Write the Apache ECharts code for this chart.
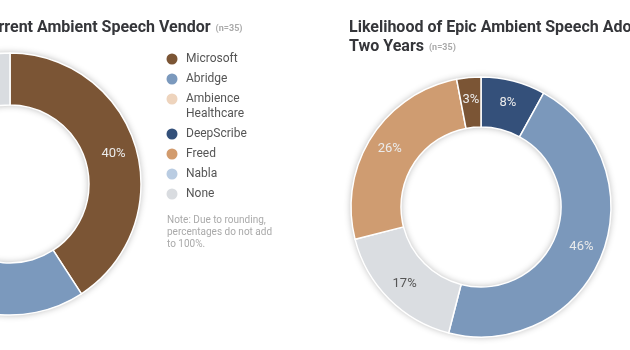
<!DOCTYPE html>
<html>
<head>
    <meta charset="UTF-8">
    <title>Ambient Speech Vendors</title>
    <script src="https://cdn.jsdelivr.net/npm/echarts@6/dist/echarts.min.js"></script>
    <style>
        html, body { margin: 0; padding: 0; background: #fff; overflow: hidden; }
    </style>
</head>
<body>
<div id="chart" style="width:630px; height:350px;"></div>
<script>
    // left donut: current vendor
    var vendorNames = ['Microsoft', 'Abridge', 'Ambience Healthcare', 'DeepScribe', 'Freed', 'Nabla', 'None'];
    var vendorValues = [40, 29, 6, 3, 6, 3, 11];
    var vendorColors = ['#7b5535', '#7b99bd', '#eed4bd', '#33507a', '#d29b6d', '#b9cce2', '#d9dce0'];
    var vendorLegend = ['Microsoft', 'Abridge', 'Ambience\nHealthcare', 'DeepScribe', 'Freed', 'Nabla', 'None'];

    // right donut: likelihood of Epic adoption
    var likelyNames = ['Already Live', 'Likely', 'Unsure', 'Unlikely', 'Very Unlikely'];
    var likelyValues = [8, 46, 17, 26, 3];
    var likelyColors = ['#34507a', '#7b98bb', '#dadde1', '#cf9c71', '#7b5535'];

    var paleColors = ['#dadde1', '#d9dce0', '#eed4bd', '#b9cce2'];

    function pieData(names, values, colors) {
        return names.map(function (n, i) {
            var pale = paleColors.indexOf(colors[i]) >= 0;
            return {
                name: n,
                value: values[i],
                itemStyle: {color: colors[i]},
                label: {color: pale ? '#555555' : '#ebebeb'}
            };
        });
    }

    function shadowRing(center, radius) {
        return {
            type: 'pie',
            center: center,
            radius: radius,
            silent: true,
            z: 1,
            label: {show: false},
            labelLine: {show: false},
            itemStyle: {color: '#fff', shadowBlur: 7, shadowColor: 'rgba(0,0,0,0.3)'},
            data: [{value: 1, name: ''}]
        };
    }

    function donut(name, center, radius, data) {
        return {
            name: name,
            type: 'pie',
            center: center,
            radius: radius,
            z: 2,
            avoidLabelOverlap: false,
            itemStyle: {borderColor: '#fff', borderWidth: 1.5},
            label: {
                show: true,
                position: 'inside',
                formatter: '{c}%',
                fontFamily: 'Roboto',
                fontSize: 13
            },
            labelLine: {show: false},
            emphasis: {scale: false},
            data: data
        };
    }

    // hand made legend so the two line entry lines up with its dot
    var legendItems = [];
    var ly = 59;
    vendorLegend.forEach(function (txt, i) {
        legendItems.push({
            type: 'circle',
            shape: {cx: 172, cy: ly, r: 5.5},
            style: {fill: vendorColors[i]}
        });
        legendItems.push({
            type: 'text',
            x: 186,
            y: ly - 7.5,
            style: {
                text: txt,
                fill: '#555',
                font: '12px Roboto',
                lineHeight: 15,
                verticalAlign: 'top'
            }
        });
        ly += 20 + (txt.split('\n').length - 1) * 15;
    });
    legendItems.push({
        type: 'text',
        x: 167,
        y: 214,
        style: {
            text: 'Note: Due to rounding,\npercentages do not add\nto 100%.',
            fill: '#aaa',
            font: '10px Roboto',
            lineHeight: 12,
            verticalAlign: 'top'
        }
    });

    var titleRich = {
        t: {fontFamily: 'Roboto', fontWeight: 'bold', fontSize: 16, color: '#35363a', lineHeight: 19},
        n: {fontFamily: 'Roboto', fontSize: 9, color: '#aaa', lineHeight: 19, padding: [3, 0, 0, 0]}
    };

    var chart = echarts.init(document.getElementById('chart'), null, {renderer: 'canvas'});
    var option = {
        animation: false,
        title: [{
            left: -26,
            top: 13,
            text: '{t|Current Ambient Speech Vendor} {n|(n=35)}',
            textStyle: {rich: titleRich}
        }, {
            left: 344,
            top: 13,
            text: '{t|Likelihood of Epic Ambient Speech Adoption in the Next}\n{t|Two Years} {n|(n=35)}',
            textStyle: {rich: titleRich}
        }],
        graphic: legendItems,
        series: [
            shadowRing([10, 184], [79, 131]),
            donut('Current Vendor', [10, 184], [79, 131], pieData(vendorNames, vendorValues, vendorColors)),
            shadowRing([481, 207], [80, 130]),
            donut('Epic Likelihood', [481, 207], [80, 130], pieData(likelyNames, likelyValues, likelyColors))
        ]
    };
    chart.setOption(option);
</script>
</body>
</html>
